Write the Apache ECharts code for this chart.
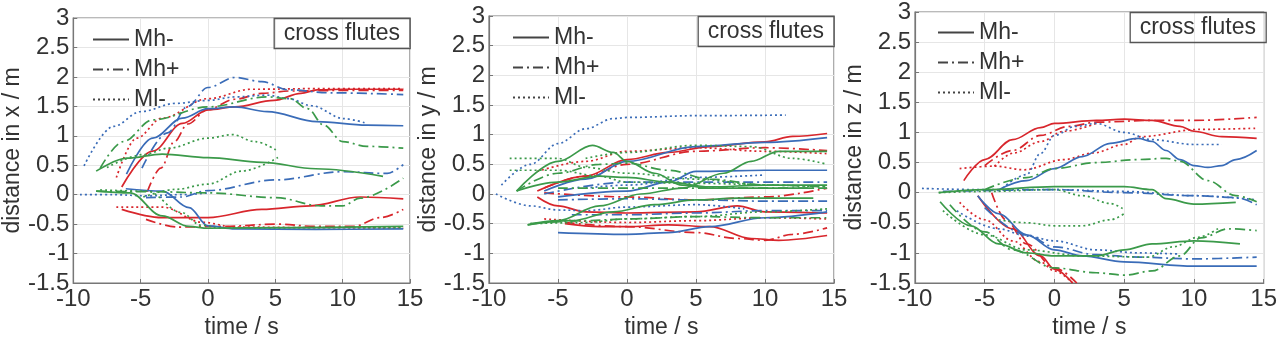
<!DOCTYPE html>
<html>
<head>
<meta charset="utf-8">
<script src="https://cdn.jsdelivr.net/npm/echarts@6/dist/echarts.min.js"></script>
<style>
  html, body { margin: 0; padding: 0; background: #fff; }
  #chart { width: 1280px; height: 344px; }
</style>
</head>
<body>
<div id="chart"></div>
<script>
// time (s) vs distance (m), one list of curves per panel / colour / style
const xRedSolid = [
  [[-6.4,0.13],[-4.1,0.74],[-1.9,1.21],[0,1.44],[2,1.49],[4.9,1.6],[6.9,1.72],[8.1,1.78],[10,1.79],[14.5,1.79]],
  [[-6.4,-0.25],[-3.4,-0.39],[0,-0.39],[4,-0.25],[7.6,-0.19],[11.3,-0.04],[14.5,-0.07]]
]
const xRedDashDot = [
  [[-4.5,0.05],[-3.5,0.45],[-2.5,0.9],[-1.5,1.2],[0,1.45],[2,1.62],[4,1.72],[6,1.76],[10,1.77],[14.5,1.77]],
  [[-4.6,-0.42],[-2.2,-0.55],[1,-0.54],[5.2,-0.5],[8,-0.54],[10.8,-0.54],[12.8,-0.39],[14.5,-0.25]]
]
const xRedDotted = [
  [[-6.8,0.29],[-5.3,0.96],[-3.4,1.3],[0,1.63],[3.2,1.79],[8,1.8],[14.5,1.8]],
  [[-6.8,-0.21],[-3.4,-0.21],[-0.4,-0.47],[2,-0.55],[8,-0.56],[14.5,-0.57]]
]
const xBlueSolid = [
  [[-6.05,0.35],[-4.1,0.96],[-1.9,1.3],[0,1.46],[2,1.49],[4.4,1.41],[8.1,1.24],[11.8,1.18],[14.5,1.17]],
  [[-6.1,0.1],[-3.4,0.06],[-1.4,-0.22],[0,-0.53],[2,-0.58],[8,-0.59],[14.5,-0.58]]
]
const xBlueDashDot = [
  [[-4.9,0.45],[-3,1.05],[-1.5,1.5],[0,1.82],[2,1.99],[4,1.92],[6,1.78],[9,1.73],[14.5,1.7]],
  [[-4.6,-0.05],[-2,-0.04],[0,0.07],[5,0.25],[10,0.39],[13.3,0.36],[14.5,0.51]]
]
const xBlueDotted = [
  [[-9.2,0.49],[-7,1.16],[-5,1.41],[-2.4,1.55],[0,1.6],[2,1.66],[4.4,1.69],[6,1.63],[7.7,1.51],[10.1,1.29],[11.8,1.21]],
  [[-9.5,0],[-7,0],[-4.5,-0.02],[-2,0],[0,0.03]]
]
const xGreenSolid = [
  [[-8.3,0.4],[-6,0.62],[-3.4,0.69],[0,0.63],[4,0.55],[8,0.44],[13,0.31]],
  [[-8.3,0.06],[-5.8,0.03],[-3.4,-0.36],[-1.4,-0.54],[0,-0.57],[5,-0.56],[14.5,-0.54]]
]
const xGreenDashDot = [
  [[-8,0.45],[-6.3,0.9],[-4.1,1.27],[0,1.49],[4.4,1.66],[6.1,1.63],[7.4,1.46],[8.6,1.18],[10,0.9],[11.8,0.82],[14.5,0.79]],
  [[-8.3,0.06],[-4,0.05],[0,0.03],[5,-0.05],[8.4,-0.19],[10,-0.19],[11.3,-0.06],[14.5,0.28]]
]
const xGreenDotted = [
  [[-7.5,0.46],[-4.8,0.68],[-2.9,0.79],[0,0.96],[1.8,1.02],[3.5,0.9],[5.2,0.74]],
  [[-4.8,-0.04],[-2.4,0.09],[0,0.18],[2.5,0.4],[5.2,0.63]],
  [[-8,0.08],[-4.5,0.06],[-2,-0.3],[-0.5,-0.52],[1,-0.57],[8,-0.56],[14.5,-0.56]]
]

const yRedSolid = [
  [[-6.5,0.05],[-3,0.3],[0,0.58],[3,0.7],[6,0.8],[10,0.88],[12,0.97],[14.5,1.02]],
  [[-6.5,-0.05],[-5,-0.2],[-3,-0.3],[0,-0.32],[5,-0.3],[8,-0.2],[10,-0.3],[14.5,-0.32]],
  [[-4.5,-0.5],[-2,-0.55],[0,-0.55],[3,-0.52],[6,-0.55],[9,-0.75],[11,-0.78],[14.5,-0.7]]
]
const yRedDashDot = [
  [[-6,0.1],[-3,0.3],[0,0.5],[5,0.72],[10,0.78],[14.5,0.73]],
  [[-4.5,-0.48],[0,-0.55],[5,-0.65],[8,-0.75],[10,-0.78],[12,-0.68],[14.5,-0.57]],
  [[-6,0.02],[0,-0.05],[5,-0.1],[10,-0.05],[14.5,0.1]]
]
const yRedDotted = [
  [[-6.5,0.38],[-3,0.55],[0,0.72],[5,0.78],[10,0.72],[14.5,0.68]],
  [[-6,-0.42],[0,-0.48],[5,-0.45],[10,-0.4],[14.5,-0.42]]
]
const yBlueSolid = [
  [[-6,0.05],[-3,0.25],[0,0.55],[5,0.8],[10,0.87],[14.5,0.95]],
  [[-5,-0.05],[0,0.05],[3,0.2],[5,0.38],[10,0.4],[14.5,0.4]],
  [[-5,-0.65],[0,-0.68],[3,-0.65],[6,-0.55],[10,-0.4],[14.5,-0.3]]
]
const yBlueDashDot = [
  [[-6,0],[0,0.2],[5,0.2],[10,0.2],[14.5,0.2]],
  [[-5,-0.1],[0,-0.08],[5,-0.1],[10,-0.12],[14.5,-0.12]],
  [[-4,-0.35],[0,-0.35],[5,-0.32],[10,-0.28],[14.5,-0.28]]
]
const yBlueDotted = [
  [[-9.1,0.15],[-7,0.5],[-5,0.85],[-3,1.1],[-1,1.27],[0,1.29],[5,1.32],[11.5,1.33]],
  [[-9.5,0],[-7,-0.2],[-5,-0.27],[-3,-0.28],[0,-0.22],[5,-0.18],[8.5,-0.25]],
  [[-3,0.1],[0,0.15],[5,0.28],[10,0.32]]
]
const yGreenSolid = [
  [[-8,0.05],[-5,0.55],[-2.5,0.82],[-1,0.7],[0,0.55],[2,0.35],[4,0.15],[6,0.1],[10,0.1],[13.5,0.1]],
  [[-8,0.05],[-5,0.2],[-2,0.3],[0,0.28],[3,0.2],[6,0.12],[10,0.15],[14.5,0.15]],
  [[-7.2,-0.52],[-5,-0.45],[-2,-0.2],[1,0],[4,0.1],[7,0.35],[9,0.55],[11,0.72],[14.5,0.72]],
  [[-7.2,-0.52],[-4,-0.45],[-1,-0.3],[2,-0.18],[5,-0.1],[8,-0.07],[13.5,-0.07]]
]
const yGreenDashDot = [
  [[-8,0.05],[-5,0.35],[-2,0.5],[0,0.52],[3,0.4],[6,0.25],[10,0.15],[14.5,0.12]],
  [[-7,-0.5],[-3,-0.45],[0,-0.42],[5,-0.38],[10,-0.4],[14.5,-0.4]],
  [[-5,0.1],[0,0.1],[5,0.1],[14.5,0.1]]
]
const yGreenDotted = [
  [[-8.5,0.6],[-5,0.6],[-3,0.45],[0,0.35],[5,0.25],[10,0.15],[14.5,0.12]],
  [[-8.5,0.4],[-5,0.4],[-2,0.3],[0,0.2],[5,0.18],[10,0.15]],
  [[-7,-0.5],[-3,-0.48],[0,-0.42],[5,-0.38],[10,-0.3],[14.5,-0.25]],
  [[-3,0.6],[0,0.7],[5,0.82],[9,0.8],[12,0.6],[14.5,0.5]]
]

const zRedSolid = [
  [[-6.5,0.2],[-5,0.55],[-3,0.88],[-1,1.08],[0,1.15],[3,1.2],[5,1.22],[7,1.2],[9,1.1],[10,1.02],[12,0.93],[14.5,0.9]],
  [[-5.5,-0.05],[-3,-0.6],[-1,-1.05],[0,-1.27],[1.3,-1.5]]
]
const zRedDashDot = [
  [[-5,0.45],[-3,0.7],[-1,0.95],[1,1.1],[3,1.17],[7,1.2],[10,1.2],[14.5,1.25]],
  [[-4.5,0],[-3.5,-0.45],[-2,-0.85],[0,-1.25],[1.6,-1.5]]
]
const zRedDotted = [
  [[-6.8,0.4],[-4.3,0.44],[-2.2,0.38],[0.7,0.55],[2.8,0.66],[5,0.8],[6.2,0.93],[10.3,1.05],[14.5,1.07]],
  [[-4.3,0.44],[-2.9,0.66],[-1,0.85],[0.7,1.02],[3,1.15]],
  [[-6.8,-0.16],[-5,-0.45],[-3,-0.8],[-1,-1.15],[0,-1.3],[1.3,-1.5]]
]
const zBlueSolid = [
  [[-4,0.05],[-2,0.2],[0,0.4],[2,0.6],[4,0.82],[6,0.9],[7,0.85],[8,0.7],[9,0.55],[10,0.45],[11,0.42],[12,0.45],[13,0.55],[14.5,0.7]],
  [[-5.5,-0.05],[-4,-0.35],[-2,-0.7],[0,-0.95],[2,-1.05],[5,-1.15],[10,-1.22],[14.5,-1.22]]
]
const zBlueDashDot = [
  [[-8,0.02],[0,0.05],[5,0],[10,-0.05],[13,-0.08],[14.5,-0.2]],
  [[-5,-0.25],[-2,-0.7],[0,-0.9],[3,-1.03],[6,-1.07],[10,-1.1],[14.5,-1.07]]
]
const zBlueDotted = [
  [[-9.5,0.07],[-5,0.05],[0,0.05],[5,0.02],[10,-0.05],[14.5,-0.12]],
  [[-4,0.02],[-2,0.3],[-1,0.65],[0,0.95],[1.5,1.1],[3,1.15],[5,1.0],[7,0.88],[10,0.8],[12,0.8]],
  [[-7,-0.3],[-4,-0.6],[-2,-0.72],[0,-0.8],[3,-0.95],[6,-1.0],[9,-1.02]]
]
const zGreenSolid = [
  [[-8.3,0],[-5,0.05],[0,0.1],[5,0.1],[7,0.05],[8,-0.1],[10,-0.19],[13,-0.16]],
  [[-8.2,-0.15],[-6,-0.55],[-4,-0.85],[-2,-1.0],[0,-1.05],[3,-1.05],[5,-0.95],[7,-0.85],[10,-0.8],[13.3,-0.85]]
]
const zGreenDashDot = [
  [[-5,0.05],[-2,0.25],[0,0.4],[3,0.5],[6,0.55],[8,0.57],[9,0.52],[11,0.2],[13,-0.05],[14.5,-0.15]],
  [[-7.5,-0.2],[-5,-0.65],[-3,-0.95],[0,-1.25],[3,-1.33],[5,-1.37],[7,-1.3],[9,-1.05],[10.5,-0.75],[12.5,-0.6],[14.5,-0.63]]
]
const zGreenDotted = [
  [[-8.3,0],[-5,0.02],[0,0.05],[2,-0.05],[4,-0.18],[5,-0.28]],
  [[-4,-0.45],[-2,-0.5],[0,-0.55],[2,-0.55],[4,-0.45],[5,-0.35]],
  [[-8,-0.3],[-5,-0.7],[-2,-0.95],[2,-1.05],[6.7,-1.07],[8.5,-0.9],[10.3,-0.74],[11.9,-0.57]]
]

const legendNames = ['Mh-', 'Mh+', 'Ml-']
const yNames = ['distance in x / m', 'distance in y / m', 'distance in z / m']
const boxLabel = 'cross flutes'

const RED = '#d8262c'
const BLUE = '#3a6cb8'
const GREEN = '#3b9a4a'
const DASH = { solid: 'solid', dashdot: [10, 4, 2, 4], dotted: [2, 3] }
const FONT = '"Liberation Sans", Arial, sans-serif'
const FS = 23
const TICK_FS = 24

const panels = [
  { grid: { left: 70, top: 18, width: 340, height: 269 }, legend: { left: 92, top: 28 }, box: 870,
    lines: [[xRedSolid, RED, 'solid'], [xRedDashDot, RED, 'dashdot'], [xRedDotted, RED, 'dotted'],
            [xBlueSolid, BLUE, 'solid'], [xBlueDashDot, BLUE, 'dashdot'], [xBlueDotted, BLUE, 'dotted'],
            [xGreenSolid, GREEN, 'solid'], [xGreenDashDot, GREEN, 'dashdot'], [xGreenDotted, GREEN, 'dotted']] },
  { grid: { left: 489, top: 16, width: 345, height: 271 }, legend: { left: 512, top: 26 }, box: 446,
    lines: [[yRedSolid, RED, 'solid'], [yRedDashDot, RED, 'dashdot'], [yRedDotted, RED, 'dotted'],
            [yBlueSolid, BLUE, 'solid'], [yBlueDashDot, BLUE, 'dashdot'], [yBlueDotted, BLUE, 'dotted'],
            [yGreenSolid, GREEN, 'solid'], [yGreenDashDot, GREEN, 'dashdot'], [yGreenDotted, GREEN, 'dotted']] },
  { grid: { left: 915, top: 12, width: 351, height: 275 }, legend: { left: 937, top: 21 }, box: 14,
    lines: [[zRedSolid, RED, 'solid'], [zRedDashDot, RED, 'dashdot'], [zRedDotted, RED, 'dotted'],
            [zBlueSolid, BLUE, 'solid'], [zBlueDashDot, BLUE, 'dashdot'], [zBlueDotted, BLUE, 'dotted'],
            [zGreenSolid, GREEN, 'solid'], [zGreenDashDot, GREEN, 'dashdot'], [zGreenDotted, GREEN, 'dotted']] }
]

const chart = echarts.init(document.getElementById('chart'), null, { renderer: 'canvas' })

const series = []
panels.forEach((p, i) => {
  p.lines.forEach(([curves, color, style]) => {
    curves.forEach(pts => {
      series.push({
        type: 'line', xAxisIndex: i, yAxisIndex: i, data: pts,
        smooth: 0.35, smoothMonotone: 'x', symbol: 'none', silent: true,
        lineStyle: { color, width: 1.7, type: DASH[style] }
      })
    })
  })
})
// legend-only entries (grey samples)
;['solid', 'dashdot', 'dotted'].forEach((style, k) => {
  series.push({
    name: legendNames[k], type: 'line', xAxisIndex: 0, yAxisIndex: 0, data: [],
    symbol: 'none', itemStyle: { color: '#444' },
    lineStyle: { color: '#444', width: 1.6, type: DASH[style] }
  })
})

const option = {
  animation: false,
  textStyle: { fontFamily: FONT },
  grid: panels.map(p => ({ ...p.grid, show: true, borderColor: '#777', borderWidth: 1.2 })),
  xAxis: panels.map((p, i) => ({
    type: 'value', gridIndex: i, min: -10, max: 15, interval: 5,
    name: 'time / s', nameLocation: 'middle', nameGap: 33,
    nameTextStyle: { fontSize: FS, color: '#333', fontFamily: FONT },
    axisLine: { show: true, onZero: false, lineStyle: { color: '#777', width: 1.2 } },
    axisTick: { inside: true, length: 4, lineStyle: { color: '#777' } },
    axisLabel: { fontSize: TICK_FS, color: '#333', margin: 4, fontFamily: FONT },
    splitLine: { lineStyle: { color: '#e6e6e6' } }
  })),
  yAxis: panels.map((p, i) => ({
    type: 'value', gridIndex: i, min: -1.5, max: 3, interval: 0.5,
    name: yNames[i], nameLocation: 'middle', nameGap: 47,
    nameTextStyle: { fontSize: FS, color: '#333', fontFamily: FONT },
    axisLine: { show: true, onZero: false, lineStyle: { color: '#777', width: 1.2 } },
    axisTick: { inside: true, length: 4, lineStyle: { color: '#777' } },
    axisLabel: { fontSize: TICK_FS, color: '#333', margin: 4, fontFamily: FONT },
    splitLine: { lineStyle: { color: '#e6e6e6' } }
  })),
  legend: panels.map(p => ({
    ...p.legend, orient: 'vertical', data: legendNames, selectedMode: false,
    itemWidth: 36, itemHeight: 12, itemGap: 7, padding: 0,
    itemStyle: { opacity: 0, borderWidth: 0 },
    textStyle: { fontSize: FS, color: '#333', fontFamily: FONT }
  })),
  title: panels.map(p => ({
    text: boxLabel, right: p.box, top: p.grid.top,
    borderColor: '#555', borderWidth: 1.3, padding: [4, 10, 4, 10],
    textStyle: { fontSize: FS, fontWeight: 'normal', color: '#333', fontFamily: FONT }
  })),
  series
}

chart.setOption(option)
</script>
</body>
</html>
